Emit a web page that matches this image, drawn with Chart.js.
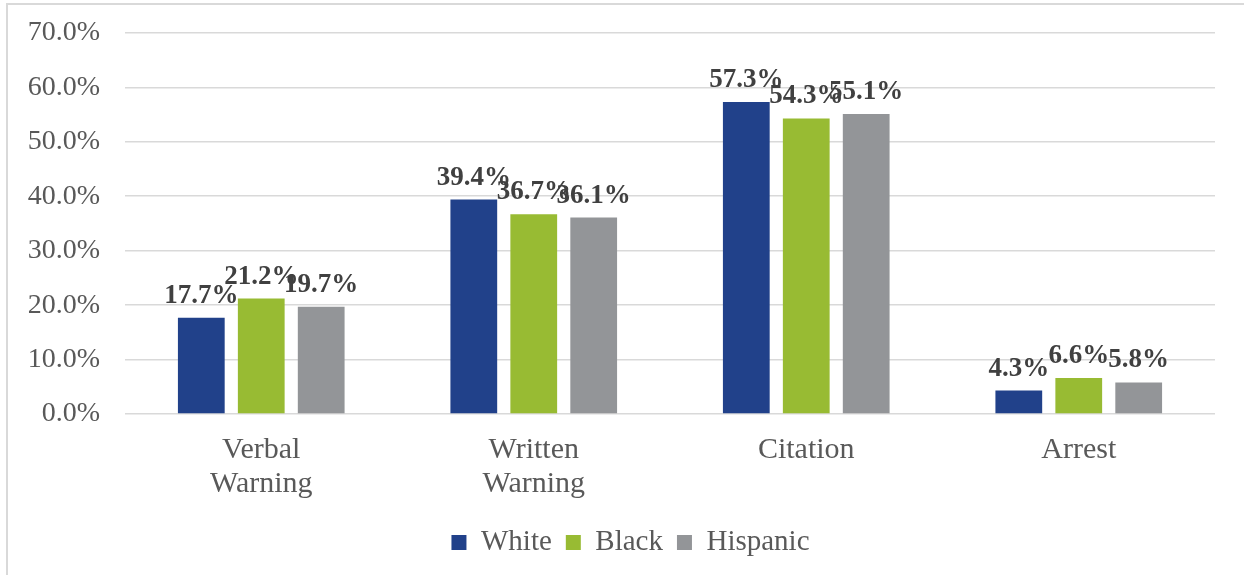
<!DOCTYPE html>
<html>
<head>
<meta charset="utf-8">
<script src="https://cdn.jsdelivr.net/npm/chart.js@4/dist/chart.umd.min.js"></script>
<style>
  html, body { margin: 0; padding: 0; background: #ffffff; }
  #wrap { position: relative; width: 1244px; height: 575px; overflow: hidden; background: #fff; }
  #frame { position: absolute; left: 6px; top: 3px; width: 1300px; height: 700px;
           border-left: 2px solid #d9d9d9; border-top: 2px solid #d9d9d9; box-sizing: border-box; }
  canvas { position: absolute; left: 0; top: 0; }
</style>
</head>
<body>
<div id="wrap">
  <div id="frame"></div>
  <canvas id="c" width="1244" height="575"></canvas>
</div>
<script>
const categories = [['Verbal', 'Warning'], ['Written', 'Warning'], ['Citation'], ['Arrest']];
const seriesNames = ['White', 'Black', 'Hispanic'];
const whiteValues = [17.7, 39.4, 57.3, 4.3];
const blackValues = [21.2, 36.7, 54.3, 6.6];
const hispanicValues = [19.7, 36.1, 55.1, 5.8];
const seriesColors = ['#21418A', '#98BB33', '#939598'];
const yMax = 70;
const yStep = 10;

const serif = "'Liberation Serif', 'Times New Roman', serif";

const valueLabels = {
  id: 'valueLabels',
  afterDatasetsDraw(chart) {
    const ctx = chart.ctx;
    ctx.save();
    ctx.font = 'bold 27px ' + serif;
    ctx.fillStyle = '#404040';
    ctx.textAlign = 'center';
    ctx.textBaseline = 'alphabetic';
    chart.data.datasets.forEach((ds, i) => {
      const meta = chart.getDatasetMeta(i);
      meta.data.forEach((bar, j) => {
        ctx.fillText(ds.data[j].toFixed(1) + '%', bar.x, bar.y - 15);
      });
    });
    ctx.restore();
  }
};

// Shift the legend slightly right, as in the original layout
const legendShift = {
  id: 'legendShift',
  afterLayout(chart) {
    const lg = chart.legend;
    if (lg) { lg.left += 23; lg.right += 23; }
  }
};

new Chart(document.getElementById('c'), {
  type: 'bar',
  data: {
    labels: categories,
    datasets: [
      { label: seriesNames[0], data: whiteValues, backgroundColor: seriesColors[0] },
      { label: seriesNames[1], data: blackValues, backgroundColor: seriesColors[1] },
      { label: seriesNames[2], data: hispanicValues, backgroundColor: seriesColors[2] }
    ]
  },
  options: {
    responsive: false,
    animation: false,
    layout: { padding: { top: 33, right: 29, left: 0, bottom: 8 } },
    datasets: { bar: { categoryPercentage: 0.66, barPercentage: 0.78 } },
    scales: {
      x: {
        grid: { display: false, drawTicks: false },
        border: { display: false },
        ticks: { color: '#595959', font: { family: serif, size: 30, lineHeight: 1.13 }, padding: 19, maxRotation: 0 },
        afterFit: s => { s.height = 100; s.paddingLeft = 0; s.paddingRight = 0; }
      },
      y: {
        min: 0, max: yMax,
        grid: { color: '#d9d9d9', lineWidth: 1.6, drawTicks: false },
        border: { display: false },
        ticks: {
          stepSize: yStep, padding: 25, color: '#595959',
          font: { family: serif, size: 28 },
          callback: v => v.toFixed(1) + '%'
        },
        afterFit: s => { s.width = 125; s.paddingTop = 0; s.paddingBottom = 0; }
      }
    },
    plugins: {
      legend: {
        position: 'bottom',
        labels: { boxWidth: 15, boxHeight: 15, padding: 14, color: '#595959', font: { family: serif, size: 29 } }
      },
      tooltip: { enabled: false }
    }
  },
  plugins: [valueLabels, legendShift]
});
</script>
</body>
</html>
